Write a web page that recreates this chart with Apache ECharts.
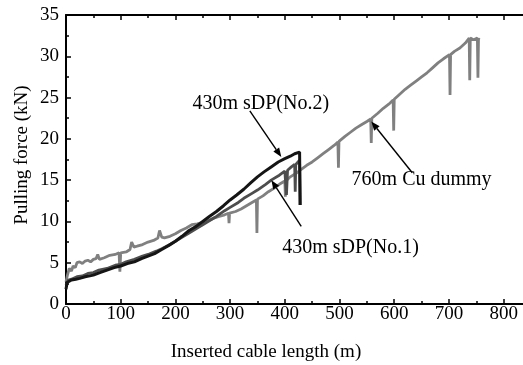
<!DOCTYPE html>
<html>
<head>
<meta charset="utf-8">
<script src="https://cdn.jsdelivr.net/npm/echarts@6/dist/echarts.min.js"></script>
<style>html,body{margin:0;padding:0;background:#fff;overflow:hidden;}#c{width:523px;height:365px;}</style>
</head>
<body>
<div id="c"></div>
<script>
const xTicks = [0,100,200,300,400,500,600,700,800];
const yTicks = [0,5,10,15,20,25,30,35];
const xTitle = 'Inserted cable length (m)';
const yTitle = 'Pulling force (kN)';
const seriesNames = ['760m Cu dummy','430m sDP(No.1)','430m sDP(No.2)'];

const cuDummy = [[0,2.7],[3,3.6],[6,4.3],[10,4.0],[13,4.6],[17,4.4],[20,5.0],[25,5.1],[30,4.9],[35,5.2],[40,5.3],[45,5.1],[50,5.4],[55,5.5],[58,6.0],[61,5.4],[70,5.6],[80,5.9],[90,6.0],[97,6.2],[98.5,3.9],[100,6.2],[110,6.3],[117,6.6],[120,7.5],[124,6.9],[130,7.0],[140,7.2],[150,7.5],[160,7.7],[168,8.0],[171,8.9],[175,8.1],[180,8.0],[190,8.2],[200,8.5],[210,8.9],[220,9.2],[230,9.6],[240,9.7],[250,9.9],[260,10.1],[270,10.4],[280,10.6],[290,10.8],[297,11.0],[298,9.8],[299,11.0],[310,11.2],[320,11.5],[330,11.9],[340,12.3],[348,12.6],[349,8.6],[350,12.7],[360,13.1],[370,13.6],[380,14.0],[390,14.5],[400,14.9],[401,13.0],[402,14.9],[410,15.4],[420,15.8],[430,16.3],[440,16.8],[450,17.2],[460,17.7],[470,18.2],[480,18.7],[490,19.2],[497,19.6],[498,16.5],[499,19.7],[510,20.3],[520,20.8],[530,21.3],[540,21.7],[550,22.1],[557,22.4],[558,19.5],[559,22.5],[570,23.1],[580,23.7],[590,24.2],[598,24.7],[599,21.0],[600,24.8],[610,25.4],[620,26.0],[630,26.5],[640,27.0],[650,27.5],[660,28.0],[670,28.6],[680,29.2],[690,29.7],[701,30.2],[702,25.3],[703,30.2],[710,30.6],[720,31.0],[730,31.6],[737,32.2],[738,27.1],[739,32.2],[745,32.0],[752,32.2],[753,27.4],[754,32.1],[756,32.0]];

const sdpNo1 = [[0,2.3],[4,2.9],[10,3.0],[20,3.3],[30,3.4],[40,3.7],[50,3.8],[60,4.1],[75,4.3],[90,4.7],[100,4.8],[110,5.1],[125,5.4],[140,5.8],[150,6.0],[165,6.4],[175,6.7],[190,7.2],[200,7.6],[215,8.2],[225,8.6],[240,9.2],[250,9.6],[265,10.2],[275,10.6],[290,11.3],[300,11.7],[315,12.3],[325,12.8],[340,13.4],[350,13.8],[365,14.5],[375,15.0],[390,15.6],[400,16.1],[403,13.2],[405,16.2],[412,16.6],[418,16.9],[419,13.6],[420,16.9],[427,17.4],[428,12.0]];

const sdpNo2 = [[0,1.8],[2,2.6],[5,2.7],[10,2.9],[18,3.0],[25,3.1],[35,3.3],[50,3.5],[62,3.8],[75,4.1],[88,4.4],[100,4.6],[112,4.9],[125,5.1],[138,5.5],[150,5.8],[162,6.1],[175,6.6],[188,7.1],[200,7.6],[212,8.2],[225,8.9],[238,9.4],[250,10.0],[262,10.6],[275,11.2],[288,11.9],[300,12.6],[312,13.2],[325,13.9],[338,14.7],[350,15.4],[362,16.0],[375,16.6],[388,17.2],[400,17.6],[410,17.9],[418,18.2],[427,18.4],[428,12.0]];

// annotation anchors in data units: [tailX, tailY, tipX, tipY, textX, textY]
const annNo2 = [336, 23.4, 393.6, 17.8, 356, 24.3];
const annCu  = [633, 15.9, 558, 22.1, 650, 15.0];
const annNo1 = [430, 9.4, 375.4, 15.0, 520, 6.8];

const font = 'Liberation Serif';
const chart = echarts.init(document.getElementById('c'), null, {renderer:'canvas'});

const tickLabel = {fontFamily:font, fontSize:19, color:'#000'};
const xMax = 850;
chart.setOption({
  animation:false,
  backgroundColor:'#fff',
  grid:{left:66, top:15, width:465, height:289, outerBoundsMode:'none', containLabel:false},
  xAxis:[{
    type:'value', min:0, max:xMax, interval:100, position:'bottom',
    axisLine:{show:true, onZero:false, lineStyle:{color:'#000', width:2}},
    axisTick:{show:true, inside:true, length:5, lineStyle:{color:'#000', width:1.5}},
    minorTick:{show:true, splitNumber:2, length:3, lineStyle:{color:'#000', width:1.5}},
    splitLine:{show:false},
    axisLabel:Object.assign({margin:1, showMaxLabel:false, formatter:v=>xTicks.includes(v)?String(v):''}, tickLabel)
  },{
    type:'value', min:0, max:xMax, interval:100, position:'top',
    axisLine:{show:true, onZero:false, lineStyle:{color:'#000', width:2}},
    axisTick:{show:true, inside:true, length:5, lineStyle:{color:'#000', width:1.5}},
    minorTick:{show:true, splitNumber:2, length:3, lineStyle:{color:'#000', width:1.5}},
    splitLine:{show:false}, axisLabel:{show:false}
  }],
  yAxis:{
    type:'value', min:0, max:35, interval:5,
    axisLine:{show:true, onZero:false, lineStyle:{color:'#000', width:2}},
    axisTick:{show:true, inside:true, length:5, lineStyle:{color:'#000', width:1.5}},
    minorTick:{show:true, splitNumber:2, length:3, lineStyle:{color:'#000', width:1.5}},
    splitLine:{show:false},
    axisLabel:Object.assign({margin:7, formatter:v=>yTicks.includes(v)?String(v):''}, tickLabel)
  },
  series:[
    {name:seriesNames[0], type:'line', data:cuDummy, showSymbol:false, symbol:'none',
     lineStyle:{color:'#808080', width:2.8}, z:2},
    {name:seriesNames[1], type:'line', data:sdpNo1, showSymbol:false, symbol:'none',
     lineStyle:{color:'#4d4d4d', width:2.8}, z:3},
    {name:seriesNames[2], type:'line', data:sdpNo2, showSymbol:false, symbol:'none',
     lineStyle:{color:'#151515', width:3}, z:4}
  ]
});

function px(x,y){ return chart.convertToPixel({xAxisIndex:0, yAxisIndex:0}, [x,y]); }
const labels = [[annNo2, seriesNames[2]],[annCu, seriesNames[0]],[annNo1, seriesNames[1]]];
const graphics = [];
labels.forEach(([a,t])=>{
  const p = px(a[4], a[5]);
  graphics.push({type:'text', x:p[0], y:p[1], z:10, style:{text:t, fontFamily:font, fontSize:20, fill:'#000', textAlign:'center', textVerticalAlign:'middle'}});
  const s = px(a[0], a[1]), e = px(a[2], a[3]);
  const dx = e[0]-s[0], dy = e[1]-s[1], L = Math.hypot(dx,dy), ux = dx/L, uy = dy/L;
  const hl = 9, hw = 3.5;
  const bx = e[0]-ux*hl, by = e[1]-uy*hl;
  graphics.push({type:'line', z:10, shape:{x1:s[0], y1:s[1], x2:bx, y2:by}, style:{stroke:'#000', lineWidth:1.4}});
  graphics.push({type:'polygon', z:10, shape:{points:[[e[0],e[1]],[bx-uy*hw, by+ux*hw],[bx+uy*hw, by-ux*hw]]}, style:{fill:'#000'}});
});
// blank strip at the cropped right edge (the reference shows no right border)
const tl = px(830, 34.6), br = px(850, 0.3);
graphics.push({type:'rect', z:100, silent:true, shape:{x:tl[0], y:tl[1], width:br[0]-tl[0], height:br[1]-tl[1]}, style:{fill:'#fff'}});
graphics.push({type:'text', x:266, y:352, style:{text:xTitle, fontFamily:font, fontSize:19, fill:'#000', textAlign:'center', textVerticalAlign:'middle'}});
graphics.push({type:'text', x:22, y:155, rotation:Math.PI/2, style:{text:yTitle, fontFamily:font, fontSize:19, fill:'#000', textAlign:'center', textVerticalAlign:'middle'}});
chart.setOption({graphic:graphics});
</script>
</body>
</html>
